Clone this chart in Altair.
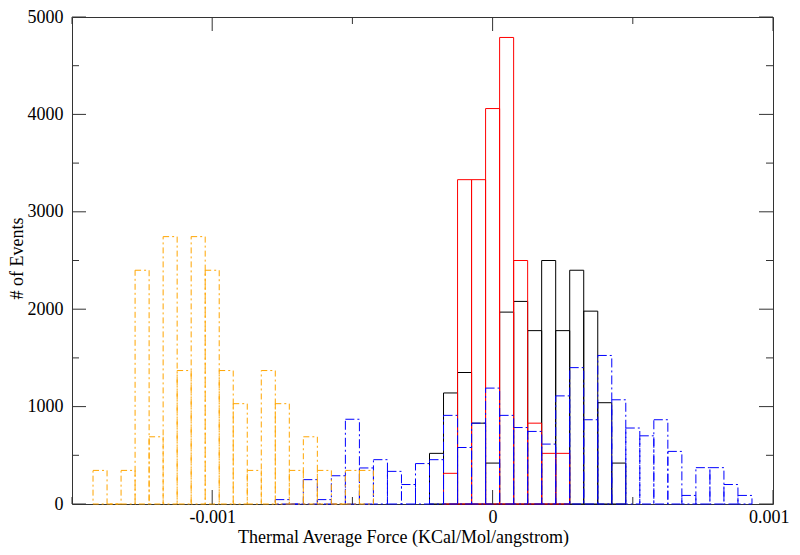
import altair as alt
import pandas as pd

# ---------------- data ----------------
BIN = 0.00005

orange_first = -0.0014
orange_counts = [345, 0, 345, 2400, 690, 2745, 1370, 2745, 2400, 1370,
                 1030, 345, 1370, 1030, 345, 690, 345, 0, 345, 345]

black_first = -0.0002
black_counts = [520, 1140, 1350, 830, 420, 1970, 2080, 1780, 2500, 1780,
                2400, 1980, 1040, 420]

red_first = -0.00015
red_counts = [315, 3330, 3330, 4060, 4790, 2500, 830, 520, 520]

blue_first = -0.00075
blue_counts = [45, 0, 250, 45, 290, 870, 370, 455, 335, 200, 415, 455, 910, 580, 830,
               1190, 910, 785, 745, 615, 1110, 1400, 865, 1525, 1070, 780, 700, 865,
               540, 88, 373, 373, 200, 88]

x_major = [-0.001, 0.0, 0.001]
x_minor = [-0.0015, -0.0005, 0.0005]
y_major = [0, 1000, 2000, 3000, 4000, 5000]
y_minor = [500, 1500, 2500, 3500, 4500]

X_DOMAIN = [-0.0015, 0.001]
Y_DOMAIN = [0, 5000]

W, H = 701, 487
FONT = "Liberation Serif"


def hist_df(first, counts):
    rows = []
    for i, c in enumerate(counts):
        center = round(first + i * BIN, 6)
        rows.append({"x0": center - BIN / 2, "x1": center + BIN / 2,
                     "count": c, "base": 0})
    return pd.DataFrame(rows)


xscale = alt.Scale(domain=X_DOMAIN, nice=False, zero=False)
yscale = alt.Scale(domain=Y_DOMAIN, nice=False, zero=False)

XTITLE = "Thermal Average Force (KCal/Mol/angstrom)"
YTITLE = "# of Events"

xaxis = alt.Axis(values=x_major, title=XTITLE,
                 labelExpr="datum.value == 0 ? '0' : (datum.value < 0 ? '-' : '') + format(abs(datum.value), '.3f')",
                 ticks=False, domain=False, grid=False,
                 labelBaseline="alphabetic", labelPadding=18,
                 labelFlush=True, labelFlushOffset=16,
                 titleX=331, titleY=38,
                 titleBaseline="alphabetic", titleAlign="center")
yaxis = alt.Axis(values=y_major, title=YTITLE, format="d",
                 ticks=False, domain=False, grid=False,
                 labelPadding=9,
                 titleX=-46, titleY=241, titleAlign="center")


def hist_layer(first, counts, color, dash=None):
    props = dict(fillOpacity=0, stroke=color, strokeWidth=1)
    if dash:
        props["strokeDash"] = dash
    return alt.Chart(hist_df(first, counts)).mark_bar(**props).encode(
        x=alt.X("x0:Q", scale=xscale, axis=xaxis),
        x2="x1:Q",
        y=alt.Y("count:Q", scale=yscale, axis=yaxis),
        y2="base:Q",
    )


black = hist_layer(black_first, black_counts, "#000000")
red = hist_layer(red_first, red_counts, "#ff0000")
blue = hist_layer(blue_first, blue_counts, "#0000ff", dash=[9, 3, 2, 3])
orange = hist_layer(orange_first, orange_counts, "#ffa500", dash=[6, 3, 2, 3])


def ytick(vals, x_from, x_to):
    return alt.Chart(pd.DataFrame({"v": vals})).mark_rule(color="#333333", strokeWidth=1).encode(
        y=alt.Y("v:Q", scale=yscale, axis=yaxis),
        x=alt.value(x_from), x2=alt.value(x_to))


def xtick(vals, y_from, y_to):
    return alt.Chart(pd.DataFrame({"v": vals})).mark_rule(color="#333333", strokeWidth=1).encode(
        x=alt.X("v:Q", scale=xscale, axis=xaxis),
        y=alt.value(y_from), y2=alt.value(y_to))


ticks = [
    ytick(y_major, 0, 14), ytick(y_minor, 0, 7),
    ytick(y_major, W - 14, W), ytick(y_minor, W - 7, W),
    xtick(x_major, H - 14, H), xtick(x_minor, H - 7, H),
    xtick(x_major, 0, 14), xtick(x_minor, 0, 7),
]

chart = alt.layer(black, red, blue, orange, *ticks).properties(
    width=W, height=H,
    padding={"left": 64, "top": 9, "right": 18, "bottom": 43},
    autosize=alt.AutoSizeParams(type="none"),
    background="white",
).configure_view(
    stroke="#333333", strokeWidth=1
).configure_axis(
    labelFont=FONT, labelFontSize=18, labelColor="black",
    titleFont=FONT, titleFontSize=18, titleFontWeight="normal", titleColor="black",
)

chart.save("out.html", embed_options={"renderer": "svg", "actions": False})
